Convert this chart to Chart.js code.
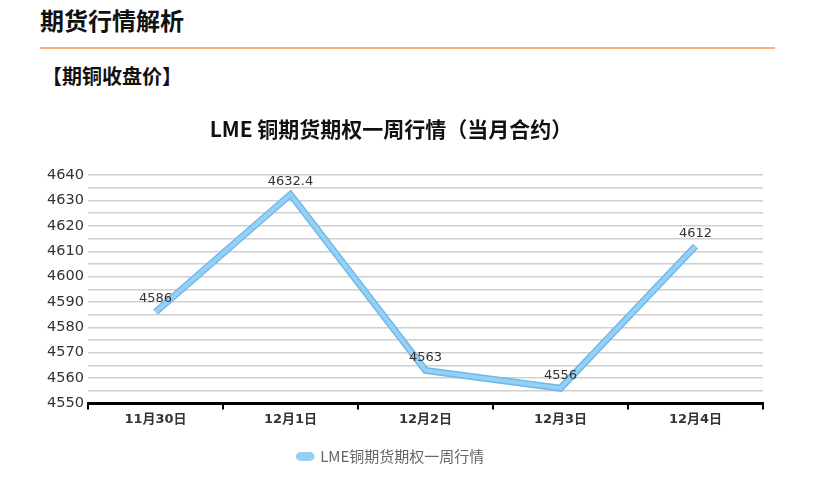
<!DOCTYPE html>
<html>
<head>
<meta charset="utf-8">
<script src="https://cdn.jsdelivr.net/npm/chart.js@4"></script>
<style>
  body { margin: 0; background: #fff; font-family: "Noto Sans CJK SC", "Noto Sans", sans-serif; }
  #head { position: absolute; left: 40px; top: 2px; font-size: 24px; font-weight: bold; color: #111; }
  #rule { position: absolute; left: 40px; top: 47px; width: 735px; height: 2px; background: #ffb07a; }
  #sub { position: absolute; left: 42px; top: 61px; font-size: 20px; font-weight: bold; color: #111; }
  #wrap { position: absolute; left: 0; top: 100px; width: 820px; height: 378px; }
</style>
</head>
<body>
<div id="head">期货行情解析</div>
<div id="rule"></div>
<div id="sub">【期铜收盘价】</div>
<div id="wrap"><canvas id="c"></canvas></div>
<script>
// data
var days = ['11月30日', '12月1日', '12月2日', '12月3日', '12月4日'];
var prices = [4586, 4632.4, 4563, 4556, 4612];
var seriesName = 'LME铜期货期权一周行情';

// value labels above each point
var valueLabels = {
    id: 'valueLabels',
    afterDatasetsDraw: function (chart) {
        var ctx = chart.ctx;
        var meta = chart.getDatasetMeta(0);
        ctx.save();
        ctx.font = '13px "DejaVu Sans", sans-serif';
        ctx.fillStyle = '#333';
        ctx.textAlign = 'center';
        ctx.textBaseline = 'middle';
        meta.data.forEach(function (pt, i) {
            ctx.fillText(String(prices[i]), pt.x, pt.y - 13);
        });
        ctx.restore();
    }
};

var ctx = document.getElementById('c').getContext('2d');
new Chart(ctx, {
    type: 'line',
    data: {
        labels: days,
        datasets: [{
            label: seriesName,
            data: prices,
            borderColor: '#96d0f5',
            backgroundColor: '#96d0f5',
            borderWidth: 4,
            pointRadius: 0,
            tension: 0,
            fill: false,
            order: 0
        }, {
            // darker edge under the main line
            label: 'edge',
            data: prices,
            borderColor: '#72b9e9',
            borderWidth: 7,
            pointRadius: 0,
            tension: 0,
            fill: false,
            order: 1
        }]
    },
    options: {
        responsive: true,
        maintainAspectRatio: false,
        animation: false,
        layout: { padding: { left: 19, right: 57, top: 0, bottom: 4 } },
        plugins: {
            title: {
                display: true,
                text: 'LME 铜期货期权一周行情（当月合约）',
                font: { size: 21, weight: 'bold', family: '"Noto Sans CJK SC"' },
                color: '#111',
                padding: { top: 16, bottom: 34 }
            },
            legend: {
                position: 'bottom',
                labels: {
                    filter: function (item) { return item.datasetIndex === 0; },
                    useBorderRadius: true,
                    borderRadius: 3,
                    boxWidth: 15,
                    boxHeight: 5,
                    color: '#666',
                    font: { size: 15, family: '"Noto Sans CJK SC"' },
                    padding: 20
                }
            },
            tooltip: { enabled: false }
        },
        scales: {
            x: {
                offset: true,
                grid: { offset: true, drawOnChartArea: false, drawTicks: true, tickLength: 6, color: '#000', lineWidth: 2 },
                border: { color: '#000', width: 3 },
                ticks: { color: '#333', font: { size: 13, weight: 'bold', family: '"DejaVu Sans", "Noto Sans CJK SC"' }, padding: 2 }
            },
            y: {
                min: 4550,
                max: 4640,
                afterFit: function (s) { s.width = 69; },
                grid: { color: '#cfcfcf', lineWidth: 1.5, drawTicks: false },
                border: { display: false },
                ticks: {
                    stepSize: 5,
                    autoSkip: false,
                    color: '#333',
                    padding: 4,
                    font: { size: 14.5, family: '"DejaVu Sans"' },
                    callback: function (v) { return v % 10 === 0 ? v : ''; }
                }
            }
        }
    },
    plugins: [valueLabels]
});
</script>
</body>
</html>
